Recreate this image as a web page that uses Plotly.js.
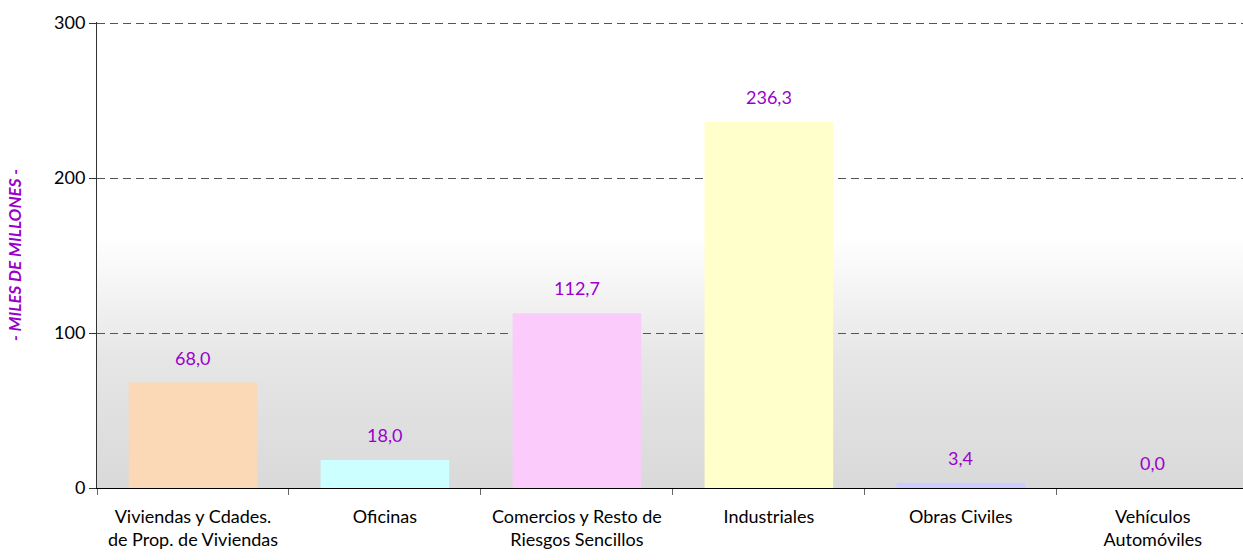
<!DOCTYPE html>
<html>
<head>
<meta charset="utf-8">
<script src="https://cdn.plot.ly/plotly-3.0.1.min.js"></script>
<style>
  html, body { margin: 0; padding: 0; background: #fff; }
  #chart { width: 1243px; height: 560px; }
</style>
</head>
<body>
<div id="chart"></div>
<script>
var categories = [
  'Viviendas y Cdades.<br>de Prop. de Viviendas',
  'Oficinas',
  'Comercios y Resto de<br>Riesgos Sencillos',
  'Industriales',
  'Obras Civiles',
  'Vehículos<br>Automóviles'
];
var values = [68.0, 18.0, 112.7, 236.3, 3.4, 0.0];
var barColors = ['#FCD9B6', '#CCFFFF', '#FBCBFB', '#FFFFCC', '#CCCCFF', '#CCFFCC'];
var yTicks = [0, 100, 200, 300];

// gradient backdrop for the plot area (white on top, grey below)
var bgSvg = '<svg xmlns="http://www.w3.org/2000/svg" width="100" height="100" preserveAspectRatio="none">' +
  '<defs><linearGradient id="g" x1="0" y1="0" x2="0" y2="1">' +
  '<stop offset="0" stop-color="#ffffff"/>' +
  '<stop offset="0.46" stop-color="#ffffff"/>' +
  '<stop offset="0.72" stop-color="#e6e6e6"/>' +
  '<stop offset="1" stop-color="#d9d9d9"/>' +
  '</linearGradient></defs>' +
  '<rect width="100" height="100" fill="url(#g)"/></svg>';

var bars = {
  x: categories,
  y: values,
  type: 'bar',
  width: 0.67,
  marker: { color: barColors },
  hoverinfo: 'x+y'
};

var labels = categories.map(function (c, i) {
  return {
    x: c,
    y: values[i],
    text: values[i].toFixed(1).replace('.', ','),
    showarrow: false,
    yanchor: 'bottom',
    yshift: 12,
    font: { size: 18, color: '#9900CC' }
  };
});

var layout = {
  width: 1243,
  height: 560,
  margin: { l: 97, r: 0, t: 22, b: 72 },
  paper_bgcolor: '#fff',
  plot_bgcolor: 'rgba(0,0,0,0)',
  separators: ',.',
  showlegend: false,
  font: { family: 'Lato, "Open Sans", sans-serif', size: 18, color: '#000' },
  images: [{
    source: 'data:image/svg+xml;charset=utf-8,' + encodeURIComponent(bgSvg),
    xref: 'paper', yref: 'paper',
    x: 0, y: 1, sizex: 1, sizey: 1,
    sizing: 'stretch', layer: 'below'
  }],
  xaxis: {
    range: [-0.5, 5.47],
    showline: true,
    linecolor: '#000',
    linewidth: 1,
    ticks: 'outside',
    tickson: 'boundaries',
    ticklen: 6,
    tickcolor: '#666',
    showgrid: false,
    tickfont: { size: 18 },
    ticklabelstandoff: 12,
    fixedrange: true
  },
  yaxis: {
    range: [0, 300.7],
    tickvals: yTicks,
    ticks: 'outside',
    ticklen: 7,
    tickcolor: '#333',
    showline: true,
    linecolor: '#333',
    showgrid: true,
    gridcolor: '#555',
    griddash: '8px,5px',
    gridwidth: 1,
    zeroline: false,
    tickfont: { size: 18 },
    title: {
      text: '<b><i>- MILES DE MILLONES -</i></b>',
      font: { size: 17, color: '#9900CC' },
      standoff: 28
    },
    fixedrange: true
  },
  annotations: labels
};

Plotly.newPlot('chart', [bars], layout, { displayModeBar: false });
</script>
</body>
</html>
